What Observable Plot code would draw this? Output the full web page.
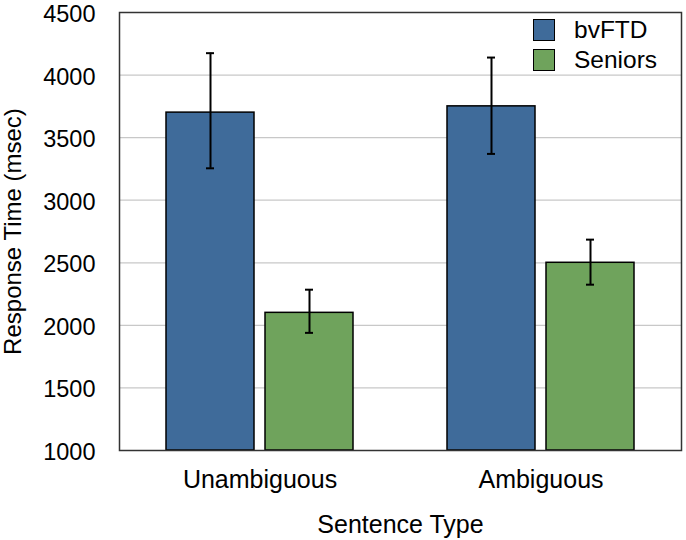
<!DOCTYPE html>
<html><head><meta charset="utf-8">
<script src="https://cdn.jsdelivr.net/npm/d3@7"></script>
<script src="https://cdn.jsdelivr.net/npm/@observablehq/plot@0.6"></script>
<style>
body{margin:0;background:#fff;font-family:"Liberation Sans",Arial,sans-serif;}
#wrap{position:relative;width:686px;height:540px;}
#legend{position:absolute;left:533px;top:15px;font-size:24.5px;color:#000;}
.item{display:flex;align-items:center;height:30px;}
.sw{width:20px;height:20px;border:1.5px solid #000;margin-right:19px;}
</style></head><body>
<div id="wrap"></div>
<script>
const types = ["Unambiguous", "Ambiguous"];
const groups = ["bvFTD", "Seniors"];
const colors = ["#3f6b9a", "#6fa35c"];
// values per type (rows) and group (columns)
const means = [[3700, 2100], [3750, 2500]];
const lower = [[3255, 1940], [3370, 2325]];
const upper = [[4175, 2285], [4140, 2685]];
const yTicks = [1000, 1500, 2000, 2500, 3000, 3500, 4000, 4500];

const rows = [];
types.forEach((t, i) => groups.forEach((g, j) => rows.push({type: t, group: g, mean: means[i][j], lo: lower[i][j], hi: upper[i][j]})));

const chart = Plot.plot({
  width: 686, height: 540,
  marginLeft: 118, marginRight: 5, marginTop: 12, marginBottom: 90,
  style: {fontFamily: "Liberation Sans, Arial, sans-serif", fontSize: "24px", color: "black", background: "white"},
  fx: {domain: types, padding: 0},
  x: {domain: groups, paddingInner: 0.11, paddingOuter: 0.4625, axis: null},
  y: {domain: [1000, 4500]},
  color: {domain: groups, range: colors},
  marks: [
    Plot.gridY(yTicks, {stroke: "#c8c8c8", strokeOpacity: 1, strokeWidth: 1.2}),
    Plot.barY(rows, {fx: "type", x: "group", y1: 1000, y2: "mean", fill: "group", stroke: "black", strokeWidth: 1.5}),
    Plot.ruleX(rows, {fx: "type", x: "group", y1: "lo", y2: "hi", stroke: "black", strokeWidth: 2}),
    Plot.tickY(rows, {fx: "type", x: "group", y: "lo", insetLeft: 40, insetRight: 40, stroke: "black", strokeWidth: 2}),
    Plot.tickY(rows, {fx: "type", x: "group", y: "hi", insetLeft: 40, insetRight: 40, stroke: "black", strokeWidth: 2}),
    Plot.axisY(yTicks, {tickSize: 0, tickPadding: 24, tickFormat: "d", fontSize: 23.5, dy: 2, label: null}),
    Plot.axisY({tickSize: 0, ticks: [], label: "Response Time (msec)", fontSize: 24, labelAnchor: "center", labelArrow: "none", labelOffset: 116}),
    Plot.axisFx({anchor: "bottom", tickSize: 0, tickPadding: 20, fontSize: 25, label: "Sentence Type", labelAnchor: "center", labelArrow: "none", labelOffset: 82}),
    Plot.frame({facet: "super", stroke: "#333", strokeWidth: 1.5})
  ]
});
const wrap = document.getElementById("wrap");
wrap.appendChild(chart);
const legend = document.createElement("div");
legend.id = "legend";
groups.forEach((g, j) => {
  const it = document.createElement("div"); it.className = "item";
  const sw = document.createElement("div"); sw.className = "sw"; sw.style.background = colors[j];
  const tx = document.createElement("span"); tx.textContent = g;
  it.appendChild(sw); it.appendChild(tx); legend.appendChild(it);
});
wrap.appendChild(legend);
</script>
</body></html>
